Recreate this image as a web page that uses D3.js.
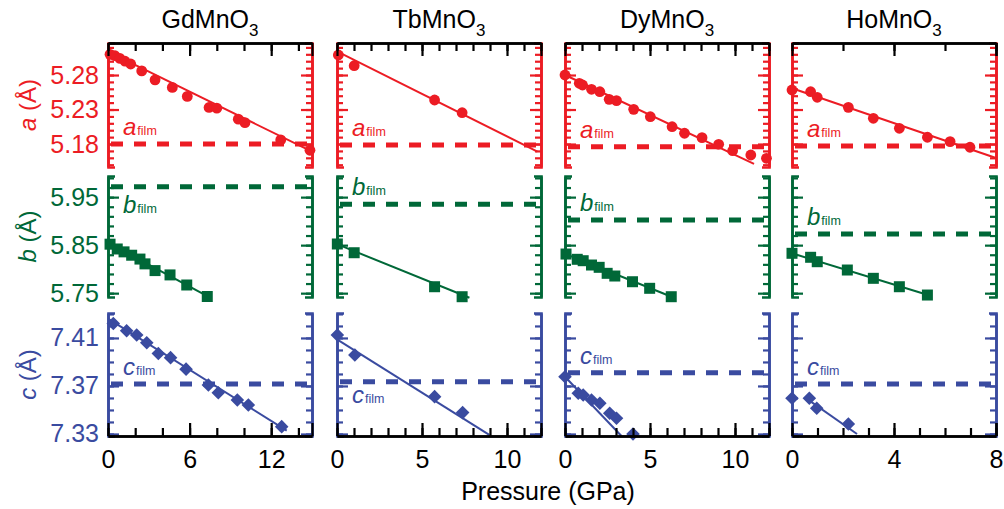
<!DOCTYPE html>
<html><head><meta charset="utf-8">
<script src="https://cdn.jsdelivr.net/npm/d3@7"></script>
<style>
body{margin:0;background:#fff}
svg{display:block;font-family:"Liberation Sans",Arial,Helvetica,sans-serif}
</style>
</head><body>
<svg id="chart" width="1004" height="509"></svg>
<script>
// ---- Data: lattice parameters of RMnO3 under pressure ----
const compounds = ["GdMnO", "TbMnO", "DyMnO", "HoMnO"];
const pressureMax = [15, 12, 12, 8];
const xMajorTicks = [[0, 6, 12], [0, 5, 10], [0, 5, 10], [0, 4, 8]];
const xMinorStep = [2, 1, 1, 1];
const xTopStep = [2, 1, 1, 2];

const yDomainA = [5.1467, 5.3264];
const yDomainB = [5.742, 5.994];
const yDomainC = [7.3283, 7.4308];
const aMajorTicks = [5.18, 5.23, 5.28];
const bMajorTicks = [5.75, 5.85, 5.95];
const cMajorTicks = [7.33, 7.37, 7.41];
const aMinorTicks = d3.range(515, 533).map(k => k / 100);
const bMinorTicks = d3.range(0, 13).map(k => +(5.75 + 0.02 * k).toFixed(2));
const cMinorTicks = d3.range(733, 744).map(k => k / 100);

// GdMnO3
const gdAP = [0.15, 0.51, 0.88, 1.25, 1.67, 2.48, 3.46, 4.73, 5.83, 7.43, 8.0, 9.58, 10.07, 12.7, 14.85];
const gdA  = [5.310, 5.308, 5.304, 5.300, 5.296, 5.286, 5.273, 5.262, 5.249, 5.233, 5.232, 5.216, 5.211, 5.186, 5.171];
const gdBP = [0.15, 0.68, 1.18, 1.74, 2.35, 2.72, 3.46, 4.56, 5.79, 7.3];
const gdB  = [5.852, 5.842, 5.836, 5.829, 5.821, 5.811, 5.797, 5.788, 5.767, 5.743];
const gdCP = [0.39, 1.37, 2.11, 2.85, 3.7, 4.6, 5.74, 7.38, 8.11, 9.51, 10.32, 12.77];
const gdC  = [7.422, 7.416, 7.4125, 7.406, 7.397, 7.3936, 7.384, 7.3708, 7.3644, 7.3583, 7.3541, 7.3361];
const gdAFit = [[0, 5.3138], [15, 5.1689]];
const gdBFit = [[0, 5.855], [7.37, 5.7426]];
const gdCFit = [[0, 7.4261], [13.14, 7.3328]];

// TbMnO3
const tbAP = [0.08, 1.01, 5.74, 7.36];
const tbA  = [5.309, 5.2935, 5.2438, 5.2254];
const tbBP = [0.02, 1.01, 5.74, 7.36];
const tbB  = [5.8524, 5.8342, 5.7634, 5.7426];
const tbCP = [0.02, 1.05, 5.74, 7.39];
const tbC  = [7.4125, 7.3958, 7.3611, 7.3478];
const tbAFit = [[0, 5.3144], [11.79, 5.1689]];
const tbBFit = [[0, 5.852], [7.79, 5.7405]];
const tbCFit = [[0, 7.4089], [8.96, 7.3292]];

// DyMnO3
const dyAP = [0, 0.84, 1.03, 1.56, 2.05, 2.6, 3.03, 4.04, 5.02, 6.3, 7.03, 8.06, 9.04, 9.86, 10.93, 11.85];
const dyA  = [5.280, 5.268, 5.2655, 5.2593, 5.2558, 5.2448, 5.2428, 5.2303, 5.2196, 5.2051, 5.1956, 5.1892, 5.1796, 5.1703, 5.1641, 5.1593];
const dyBP = [0.06, 0.72, 1.07, 1.56, 2.01, 2.48, 2.93, 3.97, 4.98, 6.25];
const dyB  = [5.8315, 5.8205, 5.8176, 5.8086, 5.8038, 5.7913, 5.7857, 5.7738, 5.7601, 5.7426];
const dyCP = [0, 0.78, 1.07, 1.56, 2.05, 2.63, 3.03, 4.0];
const dyC  = [7.3777, 7.3639, 7.3625, 7.3583, 7.3556, 7.3472, 7.3431, 7.330];
const dyAFit = [[0, 5.280], [11.12, 5.1511]];
const dyBFit = [[0, 5.832], [6.3, 5.742]];
const dyCFit = [[0, 7.3777], [3.32, 7.3283]];

// HoMnO3
const hoAP = [0, 0.73, 0.99, 2.21, 3.19, 4.21, 5.31, 6.2, 6.98];
const hoA  = [5.2583, 5.2558, 5.2477, 5.2332, 5.2173, 5.2028, 5.1898, 5.1834, 5.1753];
const hoBP = [0, 0.73, 0.99, 2.17, 3.19, 4.21, 5.31];
const hoB  = [5.833, 5.8247, 5.8155, 5.7982, 5.7809, 5.7634, 5.7461];
const hoCP = [0, 0.68, 0.97, 2.21];
const hoC  = [7.3597, 7.3597, 7.3514, 7.3383];
const hoAFit = [[0, 5.2608], [8, 5.1598]];
const hoBFit = [[0, 5.833], [5.4, 5.745]];
const hoCFit = [[0.6, 7.359], [2.55, 7.330]];

// thin-film lattice parameters (dashed reference lines)
const aFilm = [5.180, 5.1786, 5.1761, 5.1772];
const bFilm = [5.9717, 5.935, 5.9023, 5.8732];
const cFilm = [7.3717, 7.3736, 7.3811, 7.3717];

// ---- Layout ----
const svg = d3.select("#chart");
const colLeft = [108, 337, 565, 792];
const colW = 204;
const rowTop = [43, 176, 313];
const rowBot = [167, 297, 436];
const FS = 25;

const RED = "#ec1c24", GREEN = "#006838", BLUE = "#3a4ba0";

const rows = [
  {letter: "a", color: RED, domain: yDomainA, major: aMajorTicks, minor: aMinorTicks, label: "a",
   sym: "circle", film: aFilm,
   pts: [[gdAP, gdA], [tbAP, tbA], [dyAP, dyA], [hoAP, hoA]],
   fits: [gdAFit, tbAFit, dyAFit, hoAFit],
   filmSide: [-1, -1, -1, -1]},
  {letter: "b", color: GREEN, domain: yDomainB, major: bMajorTicks, minor: bMinorTicks, label: "b",
   sym: "square", film: bFilm,
   pts: [[gdBP, gdB], [tbBP, tbB], [dyBP, dyB], [hoBP, hoB]],
   fits: [gdBFit, tbBFit, dyBFit, hoBFit],
   filmSide: [1, -1, -1, -1]},
  {letter: "c", color: BLUE, domain: yDomainC, major: cMajorTicks, minor: cMinorTicks, label: "c",
   sym: "diamond", film: cFilm,
   pts: [[gdCP, gdC], [tbCP, tbC], [dyCP, dyC], [hoCP, hoC]],
   fits: [gdCFit, tbCFit, dyCFit, hoCFit],
   filmSide: [-1, 1, -1, -1]}
];

const xScales = colLeft.map((l, i) => d3.scaleLinear().domain([0, pressureMax[i]]).range([l, l + colW]));

function styleAxis(g, color, w) {
  g.selectAll("path.domain").attr("stroke", color).attr("stroke-width", 2.6).attr("fill", "none");
  g.selectAll(".tick line").attr("stroke", color).attr("stroke-width", w || 2.2);
  g.selectAll(".tick text").remove();
}

rows.forEach((row, ri) => {
  const y = d3.scaleLinear().domain(row.domain).range([rowBot[ri], rowTop[ri]]);

  // Y-axis title
  const tt = svg.append("text")
    .attr("transform", `translate(36,${(rowTop[ri] + rowBot[ri]) / 2}) rotate(-90)`)
    .attr("text-anchor", "middle").attr("font-size", FS - 1).attr("fill", row.color);
  tt.append("tspan").attr("font-style", "italic").text(row.letter);
  tt.append("tspan").text(" (Å)");

  colLeft.forEach((l, ci) => {
    const x = xScales[ci];
    const r = l + colW;
    const g = svg.append("g");

    // left and right axes, ticks pointing inward
    const lm = g.append("g").attr("transform", `translate(${l},0)`)
      .call(d3.axisRight(y).tickValues(row.minor.filter(v => v >= row.domain[0] && v <= row.domain[1])).tickSize(6).tickSizeOuter(0));
    styleAxis(lm, row.color);
    const lM = g.append("g").attr("transform", `translate(${l},0)`)
      .call(d3.axisRight(y).tickValues(row.major).tickSize(11).tickSizeOuter(7));
    styleAxis(lM, row.color);
    const rm = g.append("g").attr("transform", `translate(${r},0)`)
      .call(d3.axisLeft(y).tickValues(row.minor.filter(v => v >= row.domain[0] && v <= row.domain[1])).tickSize(6).tickSizeOuter(0));
    styleAxis(rm, row.color);
    const rM = g.append("g").attr("transform", `translate(${r},0)`)
      .call(d3.axisLeft(y).tickValues(row.major).tickSize(11).tickSizeOuter(7));
    styleAxis(rM, row.color);

    if (ci === 0) {
      const lab = g.append("g").attr("transform", `translate(${l},0)`)
        .call(d3.axisLeft(y).tickValues(row.major).tickSize(0).tickPadding(9).tickFormat(d3.format(".2f")));
      lab.select("path.domain").remove();
      lab.selectAll("text").attr("font-size", FS).attr("fill", row.color)
        .attr("font-family", "Liberation Sans, Arial, sans-serif");
    }

    // film reference (dashed)
    const yf = y(row.film[ci]);
    g.append("line").attr("x1", l + 3).attr("x2", r - 3).attr("y1", yf).attr("y2", yf)
      .attr("stroke", row.color).attr("stroke-width", 5).attr("stroke-dasharray", "12 11");
    const side = row.filmSide[ci];
    const ft = g.append("text").attr("x", l + 15)
      .attr("y", side < 0 ? yf - 9 : yf + (ri === 1 ? 26 : 21))
      .attr("fill", row.color);
    ft.append("tspan").attr("font-style", "italic").attr("font-size", 24).text(row.label);
    ft.append("tspan").attr("font-size", 12.5).attr("dx", 1).text("film");

    // linear fit
    const fit = row.fits[ci];
    g.append("line")
      .attr("x1", x(fit[0][0])).attr("y1", y(fit[0][1]))
      .attr("x2", x(fit[1][0])).attr("y2", y(fit[1][1]))
      .attr("stroke", row.color).attr("stroke-width", 2);

    // measured points
    const [ps, vs] = row.pts[ci];
    const pts = ps.map((p, k) => [p, vs[k]]);
    let sym;
    if (row.sym === "circle") sym = d3.symbol().type(d3.symbolCircle).size(Math.PI * 5.4 * 5.4);
    else if (row.sym === "square") sym = d3.symbol().type(d3.symbolSquare).size(11 * 11);
    else sym = d3.symbol().type(d3.symbolSquare).size(9.6 * 9.6);
    g.selectAll("path.pt").data(pts).join("path").attr("class", "pt")
      .attr("d", sym)
      .attr("transform", d => `translate(${x(d[0])},${y(d[1])})` + (row.sym === "diamond" ? " rotate(45)" : ""))
      .attr("fill", row.color);
  });
});

// X axes (black): top of first row, bottom of last row
colLeft.forEach((l, ci) => {
  const x = xScales[ci];
  const max = pressureMax[ci];
  const bottomMinor = d3.range(0, max + 0.001, xMinorStep[ci]);
  const topMinor = d3.range(0, max + 0.001, xTopStep[ci]);

  const tm = svg.append("g").attr("transform", `translate(0,${rowTop[0]})`)
    .call(d3.axisBottom(x).tickValues(topMinor).tickSize(8).tickSizeOuter(0));
  styleAxis(tm, "#000");
  const tM = svg.append("g").attr("transform", `translate(0,${rowTop[0]})`)
    .call(d3.axisBottom(x).tickValues(xMajorTicks[ci].concat([max])).tickSize(13).tickSizeOuter(0));
  styleAxis(tM, "#000");

  const bm = svg.append("g").attr("transform", `translate(0,${rowBot[2]})`)
    .call(d3.axisTop(x).tickValues(bottomMinor).tickSize(8).tickSizeOuter(0));
  styleAxis(bm, "#000");
  const bM = svg.append("g").attr("transform", `translate(0,${rowBot[2]})`)
    .call(d3.axisTop(x).tickValues(xMajorTicks[ci].concat([max])).tickSize(13).tickSizeOuter(0));
  styleAxis(bM, "#000");

  const lab = svg.append("g").attr("transform", `translate(0,${rowBot[2]})`)
    .call(d3.axisBottom(x).tickValues(xMajorTicks[ci]).tickSize(0).tickPadding(14).tickFormat(d3.format("d")));
  lab.select("path.domain").remove();
  lab.selectAll("text").attr("font-size", FS).attr("fill", "#000")
    .attr("font-family", "Liberation Sans, Arial, sans-serif");

  // compound title
  const t = svg.append("text").attr("x", l + colW / 2).attr("y", 28)
    .attr("text-anchor", "middle").attr("font-size", FS).attr("fill", "#000");
  t.append("tspan").text(compounds[ci]);
  t.append("tspan").attr("font-size", 17).attr("dy", 8).text("3");
});

svg.append("text").attr("x", 548).attr("y", 500).attr("text-anchor", "middle")
  .attr("font-size", FS).attr("fill", "#000").text("Pressure (GPa)");
</script>
</body></html>
